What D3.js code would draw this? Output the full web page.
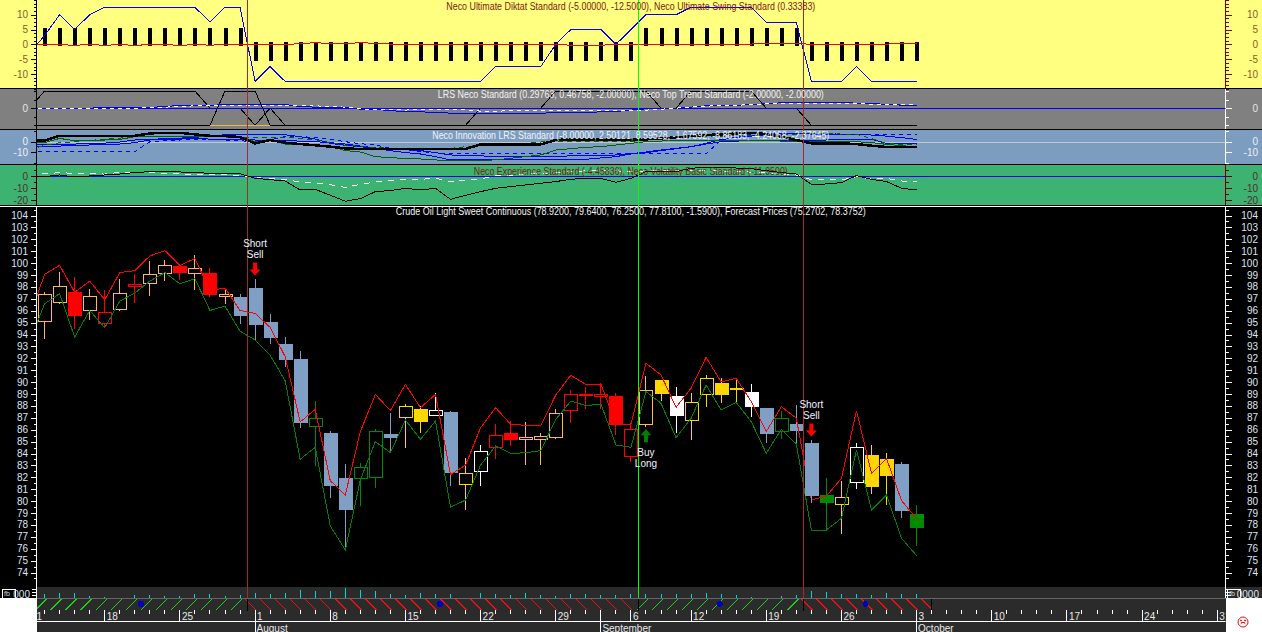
<!DOCTYPE html>
<html><head><meta charset="utf-8">
<script src="https://cdn.jsdelivr.net/npm/d3@7/dist/d3.min.js"></script>
<style>
html,body{margin:0;padding:0;background:#fff;overflow:hidden}
svg{display:block}
text{font-family:"Liberation Sans",Arial,sans-serif;font-size:10px}
.crisp,.crisp *{shape-rendering:crispEdges}
</style></head><body><div id="chart"></div>
<script>
// ---------- candle data (bar 0 .. bar 58) ----------
const bodyTop=[97.43,98.1,97.54,97.26,95.91,97.5,98.21,99.11,99.87,99.73,99.62,99.14,97.43,97.12,97.91,95.05,93.2,91.94,86.95,85.72,81.94,82.89,85.86,85.64,87.96,87.71,87.63,87.49,82.33,84.18,85.53,85.7,85.39,85.44,87.38,88.97,89,88.97,88.83,86.03,89.37,90.18,88.83,88.3,90.32,89.93,89.5,89.17,87.83,86.96,86.48,84.88,80.5,80.32,84.52,83.88,83.54,83.12,78.92];
const bodyBot=[95.12,96.72,95.6,96.05,94.96,96.13,98.04,98.35,99.2,99.25,99.2,97.4,97.23,95.6,94.88,93.79,91.94,86.65,86.25,81.35,79.34,81.97,81.97,85.39,87,86.73,87.18,82.47,81.38,82.47,84.52,85.17,85.22,85.19,85.36,87.6,88.89,88.78,86.5,83.74,86.51,89.11,87.24,86.76,88.95,89,89.4,88,85.73,85.84,85.95,80.5,79.93,79.7,81.55,81.27,82.2,79.25,77.81];
const wickHi=[97.54,99.22,98.8,97.8,97.7,98.63,99.06,100.15,100.24,99.8,100.66,99.56,97.93,97.37,98.66,95.72,93.79,92.6,88.41,85.86,83.12,83.17,86.06,87.4,88.16,87.96,89.06,87.57,83.62,84.69,86.48,86.71,86.65,85.7,87.74,89.34,89.59,89.95,89.06,86.54,90.51,90.18,89.59,89.11,90.6,90.32,90.32,89.84,87.83,87.57,88.08,85.14,81.94,81.69,84.86,84.69,84.04,83.29,79.64];
const wickLo=[93.6,96.53,94.48,95.18,94.62,95.94,96.64,97.2,98.47,98.55,97.7,97.12,96.53,94.9,93.48,93.2,91.3,86.14,82.95,80.23,75.9,79.59,81.1,84.1,84.46,85.72,87.18,81.27,79.25,81.27,83.57,84.66,83.06,83.06,85.22,86.59,87.74,87.71,85.56,83.32,86.2,88.41,85.73,85.14,87.91,88.27,88.13,87.07,84.88,85.25,84.86,79.8,77.57,77.24,81.02,80.6,79.67,78.58,76.25];
const candleKind=["O","O","R","O","r","O","r","O","O","R","O","R","O","B","B","B","B","B","g","B","B","g","g","B","y","Y","w","B","y","w","r","R","O","O","O","r","r","r","R","r","O","Y","W","y","y","Y","y","W","B","g","B","B","G","y","w","Y","Y","B","G"];
// forecast bands (bar -1 .. bar 58)
const bandUpper=[95.5,99.06,99.81,97.54,98.49,96.92,99.2,99.37,100.6,101.05,99.81,100.38,97.7,97.9,96.02,95.78,94.6,92.14,86.65,87.71,81.72,80.51,85.83,88.97,87.6,89.81,87.85,88.97,82.22,83.03,86.17,87.85,86.45,86.37,86.34,88.92,90.57,89.81,89.84,86.48,86.45,91.58,90.6,87.88,89.48,92.08,90.01,90.32,88.36,85.84,87.94,86.96,80.09,80.43,81.91,87.6,82.34,83.57,80.04,78.53];
const bandLower=[93.44,96.58,97.43,93.78,96.02,94.56,96.81,97.48,98.49,99.2,98.27,98.69,96.02,96.39,94.28,93.54,92.25,90.12,83.51,84.52,77.91,75.9,81.77,85,84.07,86.81,85.19,86.73,79.48,80.09,83.03,84.63,84,84.07,84.24,86.87,88.41,88.02,88.16,84.72,84.52,89.2,88.22,85.33,86.96,89.76,87.66,88.3,86.68,84.02,86.03,84.8,77.57,77.57,78.55,84.3,79.25,80.5,76.87,75.42];
// volume (bar 0 .. 58)
const volume=[4,5,5,2,1,0,3,3,2,2,4,4,2,3,5,4,5,8,7,7,10,8,7,4,3,5,4,4,0,5,4,3,5,3,2,4,4,3,3,4,4,4,4,4,5,4,3,1,0,2,3,7,6,4,4,3,5,4,4];
// yellow panel
const diktat=[-3,3,10,5,10,12.5,12.5,12.5,12.5,12.5,12.5,12.5,7.5,12.5,12.5,-12.5,-7.5,-12.5,-12.5,-12.5,-12.5,-12.5,-12.5,-12.5,-12.5,-12.5,-12.5,-12.5,-12.5,-12.5,-12.5,-7.5,-7.5,-7.5,-7.5,0,5,5,5,0,5,10,10,10,12.5,12.5,12.5,12.5,12.5,7.5,7.5,7.5,-12.5,-12.5,-12.5,-7.5,-12.5,-12.5,-12.5,-12.5];
const swing=[0,0,0,-0.4,0.1,-0.4,0,-0.4,0,0,-0.4,0,-0.3,0,0.1,0.1,0,0,0.2,0.6,0.2,0.2,0.6,0.3,0.1,0,0,0,-0.2,-0.2,-0.2,-0.2,-0.2,-0.2,-0.1,0,-0.3,-0.4,-0.3,0,0,0,0,0,0,0,0,0,0.1,0.3,0.3,0.3,0,0,0,0,0,0.1,0.2,0.33];
const histSign=[1,1,1,1,1,1,1,1,1,1,1,1,1,1,-1,-1,-1,-1,-1,-1,-1,-1,-1,-1,-1,-1,-1,-1,-1,-1,-1,-1,-1,-1,-1,-1,-1,-1,-1,-1,1,1,1,1,1,1,1,1,1,1,1,-1,-1,-1,-1,-1,-1,-1,-1];
const histLevel=5;
// gray panel (bar -1 .. 58)
const topTrendA=[0,2,2,2,2,2,2,2,2,2,2,2,0,0,0,-2,0,-2,-2,-2,-2,-2,-2,-2,-2,-2,-2,-2,-2,-2,0,0,0,0,0,2,2,2,2,2,2,2,0,0,2,2,2,2,2,0,0,0,-2,-2,-2,-2,-2,-2,-2,-2];
const topTrendB=[-2,-2,-2,-2,-2,-2,-2,-2,-2,-2,-2,-2,-2,2,2,2,-2,-2,-2,-2,-2,-2,-2,-2,-2,-2,-2,-2,-2,-2,-2,-2,-2,-2,-2,-2,-2,-2,-2,-2,-2,-2,-2,-2,-2,-2,-2,-2,-2,-2,-2,-2,-2,-2,-2,-2,-2,-2,-2,-2];
const lrsBlue=[0,0,0,0,0,0.08,0.08,0.08,0.08,0.19,0.31,0.31,0.31,0.43,0.43,0.43,0.43,0.43,0.19,0.12,0.12,0.12,-0.12,-0.16,-0.27,-0.43,-0.43,-0.5,-0.58,-0.58,-0.58,-0.58,-0.58,-0.58,-0.58,-0.54,-0.54,-0.5,-0.43,-0.39,-0.23,-0.08,0,0,0.12,0.27,0.35,0.35,0.39,0.54,0.62,0.66,0.66,0.66,0.66,0.58,0.5,0.47,0.35,0.35];
const lrsWhite=[0,0,0,0,0,0,0,0,0.04,0.12,0.19,0.27,0.31,0.35,0.35,0.35,0.35,0.35,0.31,0.27,0.19,0.12,-0.08,-0.16,-0.19,-0.23,-0.12,-0.12,-0.16,-0.19,-0.35,-0.35,-0.31,-0.27,-0.27,-0.27,-0.27,-0.27,-0.27,-0.23,-0.23,-0.23,-0.12,0,0.12,0.23,0.31,0.35,0.39,0.5,0.5,0.5,0.5,0.5,0.5,0.5,0.47,0.47,0.47,0.47];
// blue panel (bar -1 .. 58)
const innoBlack=[0.9,0.9,5.6,5.6,5.6,5.6,5.6,5.6,7.8,8.4,8.4,6.9,5.6,5.3,4.4,-1.6,1.6,-0.9,-2.2,-3.4,-4.7,-6.3,-6.9,-6.9,-6.9,-6.9,-6.9,-6.9,-6.9,-6.9,-2.5,-2.5,-2.5,-2.5,-2.5,1.6,2.2,2.2,2.2,2.2,2.2,2.2,3.1,4.1,5.3,6.3,6.9,7.8,8.4,7.2,4.7,1.6,-1.6,-1.6,-1.6,-2.2,-3.8,-5,-5,-5];
const innoGreen=[-0.9,-0.9,3.1,0.9,1.3,1.6,2.2,4.7,4.7,4.7,4.7,5.3,5,5,4.7,0,1.6,-2.2,-2.2,-3.1,-4.1,-8.4,-9.7,-14.1,-15,-15.9,-16.3,-17.2,-18.1,-17.8,-17.5,-17.2,-15.6,-14.1,-12.5,-7.8,-6.6,-5.3,-4.7,-3.1,-1.6,0,0.6,1.6,1.6,1.6,1.6,1.6,1.6,1.3,0.6,0,0,0.3,0.6,0,-0.9,-2.5,-3.8,-4.7];
const innoGreenDash=[-7.8,-3.4,-0.9,0,1.3,2.2,3.4,4.7,5,5,5,5.3,5,4.4,4.1,4.1,4.1,4.1,3.1,1.9,-0.9,-3.4,-4.4,-5.3,-6.3,-6.9,-7.8,-7.8,-6.3,-4.7,-3.1,-3.8,-2.5,-1.3,-0.3,0,0,0,0,0,0,1.6,2.8,4.1,4.7,5,5.3,5.6,5.9,6.6,6.9,7.2,7.5,7.8,7.2,6.9,3.1,-1.6,-2.8,-3.1];
const innoBlue1=[-2.2,-2.2,-2.2,-2.2,-1.9,-1.3,-0.3,1.6,2.2,2.8,3.4,4.1,5.3,6.6,6.6,6.6,6.6,6.6,4.7,2.5,-1.6,-3.4,-4.7,-6.3,-8.4,-10.3,-11.6,-14.1,-17.2,-17.2,-17.2,-17.2,-17.2,-17.2,-17.2,-17.2,-17.2,-16.6,-15.3,-14.1,-11.6,-10.3,-8.4,-6.6,-4.7,-1.6,2.2,4.1,5.3,6.6,7.2,7.8,7.2,6.9,6.9,6.9,6.3,5.3,3.8,2.2];
const innoBlue2=[-4.1,-4.1,-4.1,-3.8,-3.1,-2.8,-2.2,-0.9,1.6,2.2,2.5,2.8,2.5,2.2,1.9,1.6,1.3,0.9,0.6,0,-0.9,-2.2,-4.1,-5.9,-7.2,-7.5,-8.4,-10.3,-12.5,-13.1,-13.4,-13.8,-14.1,-14.1,-14.1,-13.8,-13.4,-13.4,-13.4,-12.5,-11.3,-9.7,-7.8,-6.3,-4.7,-2.2,0,0.6,0.9,1.3,1.3,1.6,1.6,1.6,1.9,2.2,2.2,-1.6,-1.6,-1.6];
const innoBlueDash=[-9.4,-9.4,-9.4,-9.4,-9.4,-9.4,-9.4,-9.4,0,0.9,1.6,2.2,1.9,1.6,0.9,0,2.2,4.7,4.7,4.1,2.2,0,-1.9,-3.1,-6.3,-7.8,-9.4,-10.3,-11.3,-11.3,-11.3,-11.3,-11.3,-11.3,-11.3,-11.3,-11.3,-11.3,-11.3,-11.3,-11.3,-11.3,-11.3,-11.3,-11.3,-11.3,1.6,4.7,7.2,7.8,7.8,7.8,7.8,7.8,6.9,6.9,6.9,6.9,6.9,6.9];
// green panel (bar -1 .. 58)
const volaBlack=[-0.9,-0.3,1.1,-0.6,0.3,1.1,1.9,3.1,3.9,3.9,3.6,3.1,2.5,2.2,2.2,-1.7,-2.8,-3.9,-11.4,-10.8,-15.8,-20.8,-18.6,-12.8,-11.9,-10,-11.4,-10,-19.2,-15.8,-12.8,-10,-8.6,-7.2,-5.8,-4.4,-2.5,-1.7,-1.7,-5,-1.7,3.9,3.9,3.9,6.7,7.5,7.5,6.9,6.4,4.7,3.1,1.9,-6.7,-6.4,-5.3,0.6,-2.5,-4.4,-10,-11.4];
const expWhite=[2.2,2.2,3,2.5,2,1.9,3.3,3.3,3.3,2.5,2.2,1.4,1.4,1.4,0.6,-1.1,-2,-2.5,-5,-5.6,-7,-9.2,-6.7,-4.7,-3.3,-2.5,-2.5,-1.7,-4.4,-3,-2.2,0.6,1,1.6,2.5,3,4,4.5,5,4.5,4,4.5,5,5,5,5,4.5,4,3.5,3,2,1.1,-3,-3,-3,-0.3,-2.2,-1.7,-3.9,-4.4];
// axis & calendar text
const priceTicks=d3.range(74,105);
const yellowTicks=[10,5,0,-5,-10], grayTicks=[0], blueTicks=[0,-10], greenTicks=[0,-10,-20];
const dayIdx=[-1,4,9,14,19,24,29,34,39,43,48,53,58,63,68,73,78];
const dayLab=["11","18","25","1","8","15","22","29","6","12","19","26","3","10","17","24","31"];
const monthIdx=[14,37,58], monthLab=["August","September","October"];
const signalIdx=[13.5,39.5,50.5], signalKind=["short","long","short"];
const regimeFlip=[13.5,39.5,50.5,59];
const newsIdx=[6.4,26.3,44.9,54.6];
const titles=[
 "Neco Ultimate Diktat Standard (-5.00000, -12.5000), Neco Ultimate Swing Standard (0.33383)",
 "LRS Neco Standard (0.29763, 0.46758, -2.00000), Neco Top Trend Standard (-2.00000, -2.00000)",
 "Neco Innovation LRS Standard (-8.00000, 2.50121, 8.59528, -1.67592, -8.86183, -4.24068, -2.37645)",
 "Neco Experience Standard (-4.45836), Neco Volatility Basic Standard (-11.9500)",
 "Crude Oil Light Sweet Continuous (78.9200, 79.6400, 76.2500, 77.8100, -1.5900), Forecast Prices (75.2702, 78.3752)"];

// ---------- layout ----------
const W=1262,H=632,L=37,R=1225.5;
const svg=d3.select("#chart").append("svg").attr("width",W).attr("height",H);
const defs=svg.append("defs");
defs.append("clipPath").attr("id","plot").append("rect").attr("x",L).attr("y",0).attr("width",R-L).attr("height",H);
const x=d3.scaleLinear().domain([0,58]).range([44.6,916.6]);
const px=v=>Math.floor(x(v))+.5;
const yYellow=d3.scaleLinear().domain([10,-10]).range([14.7,74]);
const yGray=d3.scaleLinear().domain([2,-2]).range([91,125.3]);
const yBlue=d3.scaleLinear().domain([0,-10]).range([141.7,152.3]);
const yGreen=d3.scaleLinear().domain([0,-20]).range([176.3,200.3]);
const yMain=d3.scaleLinear().domain([104,74]).range([215.5,572.5]);
const yVol=d3.scaleLinear().domain([0,10]).range([598,588]);
const DARK="#2b2b2b";
const panels=[
 {y0:0,y1:88,fill:"#ffff80"},{y0:88,y1:129,fill:"#808080"},{y0:129,y1:164,fill:"#7c9cc0"},{y0:164,y1:205,fill:"#3cb371"}];
const g=svg.append("g").attr("class","crisp");
g.selectAll(".p").data(panels).join("rect").attr("x",0).attr("width",W).attr("y",d=>d.y0).attr("height",d=>d.y1-d.y0).attr("fill",d=>d.fill);
g.append("rect").attr("x",0).attr("width",W).attr("y",205).attr("height",393).attr("fill","#000");
g.append("rect").attr("x",L).attr("width",R-L).attr("y",587).attr("height",H-587).attr("fill",DARK);
g.append("rect").attr("x",R).attr("width",W-R).attr("y",587).attr("height",11).attr("fill",DARK);
g.append("rect").attr("x",0).attr("width",L).attr("y",598).attr("height",H-598).attr("fill","#fff");
g.append("rect").attr("x",R).attr("width",W-R).attr("y",598).attr("height",H-598).attr("fill","#fff");
[88,129,164,205].forEach(v=>g.append("line").attr("x1",0).attr("x2",W).attr("y1",v+.5).attr("y2",v+.5).attr("stroke","#000"));
g.append("line").attr("x1",0).attr("x2",W).attr("y1",206.5).attr("y2",206.5).attr("stroke","#fff");

// ---------- axes ----------
function axes(scale,major,minor,[yA,yB],colL,colR,colT){
  const mk=(gen,xp,col)=>{
    const a=g.append("g").attr("transform",`translate(${xp},0)`);
    a.call(gen(scale).tickValues(minor).tickSize(3).tickFormat(""));
    a.call(s=>s.select(".domain").remove());
    const b=g.append("g").attr("transform",`translate(${xp},0)`);
    b.call(gen(scale).tickValues(major).tickSize(6).tickFormat(""));
    b.call(s=>s.select(".domain").remove());
    a.selectAll("line").attr("stroke",col); b.selectAll("line").attr("stroke",col);
    g.append("line").attr("x1",xp).attr("x2",xp).attr("y1",yA).attr("y2",yB).attr("stroke",col);
  };
  mk(d3.axisLeft,L-.5,colL); mk(d3.axisRight,R,colR);
  [[28,"end"],[1258,"end"]].forEach(([xp,an])=>{
    svg.append("g").selectAll("text").data(major).join("text")
      .attr("x",xp).attr("y",d=>scale(d)+3.5).attr("text-anchor",an).attr("fill",colT).text(d=>d);
  });
}
axes(yYellow,yellowTicks,d3.range(-15,15.1,1.25),[0,88],"#000","#800000","#8a5a2a");
axes(yGray,grayTicks,[2,1,-1,-2],[89,129],"#000","#fff","#e4e4e4");
axes(yBlue,blueTicks,[10,-20],[130,164],"#000","#fff","#f0f0f0");
axes(yGreen,greenTicks,[10,5,-5,-15],[165,205],"#000","#700000","#5a2a2a");
axes(yMain,priceTicks,d3.range(73.5,105,1),[207,598],"#fff","#fff","#dce6f5");
[[L-.5,d3.axisLeft],[R,d3.axisRight]].forEach(([xp,gen])=>{
  const a=g.append("g").attr("transform",`translate(${xp},0)`);
  a.call(gen(yVol).tickValues([0,3,6,9]).tickSize(5).tickFormat(""));
  a.select(".domain").remove(); a.selectAll("line").attr("stroke","#fff");
});
g.append("rect").attr("x",2.5).attr("y",589.5).attr("width",13).attr("height",9).attr("fill","none").attr("stroke","#fff");
g.append("rect").attr("x",1227.5).attr("y",589.5).attr("width",13).attr("height",9).attr("fill","none").attr("stroke","#fff");
svg.append("text").attr("x",4).attr("y",596).attr("fill","#ddd").style("font-size","7px").text("fb");
svg.append("text").attr("x",1229).attr("y",596).attr("fill","#ddd").style("font-size","7px").text("fb");
svg.append("text").attr("x",30).attr("y",598).attr("text-anchor","end").attr("fill","#dce6f5").text("000");
svg.append("text").attr("x",1259).attr("y",598).attr("text-anchor","end").attr("fill","#dce6f5").text("0000");

// ---------- plot ----------
const plot=svg.append("g").attr("clip-path","url(#plot)").attr("class","crisp");
const seriesLine=(scale)=>d3.line().x((d,i)=>x(i-1)).y(d=>scale(d));
function draw(vals,scale,color,w=1,dash=null){
  plot.append("path").attr("d",seriesLine(scale)(vals)).attr("fill","none").attr("stroke",color).attr("stroke-width",w).attr("stroke-dasharray",dash);
}
function hline(scale,v,color){ plot.append("line").attr("x1",L).attr("x2",R).attr("y1",Math.round(scale(v))+.5).attr("y2",Math.round(scale(v))+.5).attr("stroke",color); }
plot.selectAll(".hist").data(histSign).join("line").attr("x1",(d,i)=>px(i)).attr("x2",(d,i)=>px(i))
  .attr("y1",yYellow(0)).attr("y2",d=>yYellow(d*histLevel)).attr("stroke","#000").attr("stroke-width",4).attr("stroke-linecap","square");
draw(diktat,yYellow,"#0000ff");
draw(swing,yYellow,"#ff0000");
draw(topTrendB,yGray,"#000");
draw(topTrendA,yGray,"#000");
plot.append("line").attr("x1",x(11)).attr("x2",x(15)).attr("y1",yGray(-2)).attr("y2",yGray(-2)).attr("stroke","#e8b840");
hline(yGray,0,"#0000ff");
draw(lrsBlue,yGray,"#0000ff");
draw(lrsWhite,yGray,"#fff",1,"4 4");
hline(yBlue,0,"#c8c8c8");
draw(innoBlue2,yBlue,"#0000ff");
draw(innoBlue1,yBlue,"#0000ff");
draw(innoBlueDash,yBlue,"#0000ff",1,"4 4");
draw(innoGreen,yBlue,"#006400");
draw(innoGreenDash,yBlue,"#006400",1,"5 4");
draw(innoBlack,yBlue,"#000",2.5);
hline(yGreen,0,"#0000ff");
draw(expWhite,yGreen,"#fff",1,"6 6");
draw(volaBlack,yGreen,"#000");
// candles
const kinds={O:["#ffb469",0],R:["#ff0000",1],r:["#ff0000",0],B:["#7f9fc4",1],G:["#008a00",1],g:["#008a00",0],Y:["#ffd700",1],y:["#ffd700",0],W:["#fff",1],w:["#fff",0]};
function candles(idx){
  const c=plot.append("g");
  c.selectAll("line").data(idx).join("line").attr("x1",i=>px(i)).attr("x2",i=>px(i))
    .attr("y1",i=>yMain(wickHi[i])).attr("y2",i=>yMain(wickLo[i])).attr("stroke",i=>kinds[candleKind[i]][0]);
  c.selectAll("rect").data(idx).join("rect").attr("x",i=>Math.floor(x(i))-5.5).attr("width",13)
    .attr("y",i=>Math.round(yMain(bodyTop[i]))+.5).attr("height",i=>Math.max(1,Math.round(yMain(bodyBot[i])-yMain(bodyTop[i]))))
    .attr("fill",i=>kinds[candleKind[i]][1]?kinds[candleKind[i]][0]:"#000").attr("stroke",i=>kinds[candleKind[i]][0]);
}
candles(d3.range(bodyTop.length));
draw(bandLower,yMain,"#008000");
draw(bandUpper,yMain,"#ff0000");
candles([51]); // the signal bar sits over the bands
plot.selectAll(".vol").data(volume).join("line").attr("x1",(d,i)=>px(i)).attr("x2",(d,i)=>px(i))
  .attr("y1",yVol(0)).attr("y2",d=>yVol(d)).attr("stroke","#00d8d8");
plot.append("line").attr("x1",L).attr("x2",R).attr("y1",598.5).attr("y2",598.5).attr("stroke","#666");
// hatch by regime
function regime(i){ return i<regimeFlip[0]?"g":i<regimeFlip[1]?"r":i<regimeFlip[2]?"g":"r"; }
const hatchIdx=d3.range(-1,60);
const hatch=plot.append("g");
hatch.selectAll("line").data(hatchIdx).join("line")
  .attr("x1",i=>regime(i)=="g"?x(i)-9:x(i)-10).attr("x2",i=>regime(i)=="g"?x(i)+2:x(i)+1)
  .attr("y1",i=>regime(i)=="g"?610:599).attr("y2",i=>regime(i)=="g"?599:610)
  .attr("stroke",i=>regime(i)=="g"?"#20d020":"#ee1010");
plot.selectAll(".hs").data(regimeFlip).join("line").attr("x1",d=>px(d)).attr("x2",d=>px(d)).attr("y1",599).attr("y2",611).attr("stroke","#000");
plot.append("rect").attr("x",px(59)+.5).attr("y",599).attr("width",14).attr("height",12).attr("fill",DARK);
plot.selectAll(".news").data(newsIdx).join("circle").attr("cx",d=>x(d)).attr("cy",604).attr("r",3).attr("fill","#0000c0");
// calendar
plot.selectAll(".m").data(d3.range(-1,79)).join("line").attr("x1",i=>px(i)).attr("x2",i=>px(i)).attr("y1",610).attr("y2",614).attr("stroke","#fff");
plot.selectAll(".dt").data(dayIdx).join("line").attr("x1",i=>px(i)).attr("x2",i=>px(i)).attr("y1",611).attr("y2",621).attr("stroke","#fff");
plot.selectAll(".mt").data(monthIdx).join("line").attr("x1",i=>px(i)).attr("x2",i=>px(i)).attr("y1",611).attr("y2",632).attr("stroke","#fff");
plot.append("line").attr("x1",L).attr("x2",R).attr("y1",621.5).attr("y2",621.5).attr("stroke","#fff");
const txt=svg.append("g").attr("clip-path","url(#plot)");
txt.selectAll(".dl").data(dayIdx).join("text").attr("x",i=>x(i)+2).attr("y",620).attr("fill","#e8e8e8").text((d,i)=>dayLab[i]);
txt.selectAll(".ml").data(monthIdx).join("text").attr("x",i=>x(i)+1.5).attr("y",631.5).attr("fill","#e8e8e8").text((d,i)=>monthLab[i]);
// signal verticals
plot.selectAll(".sig").data(signalIdx).join("line").attr("x1",d=>px(d)).attr("x2",d=>px(d))
  .attr("y1",0).attr("y2",598).attr("stroke",(d,i)=>signalKind[i]=="short"?"#a82828":"#00ff00");
// signal arrows and labels
function arrow(xc,yTip,dir,color){
  const h=d3.path();
  h.moveTo(xc,yTip); h.lineTo(xc-5.5,yTip-dir*6); h.lineTo(xc-2,yTip-dir*6); h.lineTo(xc-2,yTip-dir*13);
  h.lineTo(xc+2,yTip-dir*13); h.lineTo(xc+2,yTip-dir*6); h.lineTo(xc+5.5,yTip-dir*6); h.closePath();
  svg.append("path").attr("d",h.toString()).attr("fill",color);
}
signalIdx.forEach((s,k)=>{
  const bar=Math.ceil(s), xc=x(bar);
  if(signalKind[k]=="short"){
    const top=yMain(wickHi[bar]);
    arrow(xc,top-3.5,1,"#ff0000");
    ["Short","Sell"].forEach((t,j)=>svg.append("text").attr("x",xc).attr("y",top-32+j*11).attr("text-anchor","middle").attr("fill","#eef4ff").text(t));
  } else {
    const low=yMain(wickLo[bar]);
    arrow(xc,low+2,-1,"#008000");
    ["Buy","Long"].forEach((t,j)=>svg.append("text").attr("x",xc).attr("y",low+28.5+j*11).attr("text-anchor","middle").attr("fill","#eef4ff").text(t));
  }
});
// panel titles
const titleRows=[{y:9.5,c:"#7a1a10",l:369},{y:98,c:"#f4f4f4",l:386},{y:139,c:"#f4f4f4",l:397},{y:174.5,c:"#7a1a10",l:314},{y:215,c:"#f4f4f4",l:470}];
svg.selectAll(".t").data(titles).join("text").attr("x",630.8).attr("text-anchor","middle")
  .attr("y",(d,i)=>titleRows[i].y).attr("fill",(d,i)=>titleRows[i].c).attr("textLength",(d,i)=>titleRows[i].l).attr("lengthAdjust","spacingAndGlyphs").text(d=>d);
// alert face
const face=svg.append("g").attr("transform","translate(1243,622)").attr("fill","none").attr("stroke","#e01010");
face.append("circle").attr("r",5);
face.append("circle").attr("cx",-2).attr("cy",-1.5).attr("r",.6).attr("fill","#e01010");
face.append("circle").attr("cx",2).attr("cy",-1.5).attr("r",.6).attr("fill","#e01010");
face.append("path").attr("d",d3.arc()({innerRadius:2.6,outerRadius:2.6,startAngle:-1,endAngle:1})).attr("transform","translate(0,3)");
</script></body></html>
